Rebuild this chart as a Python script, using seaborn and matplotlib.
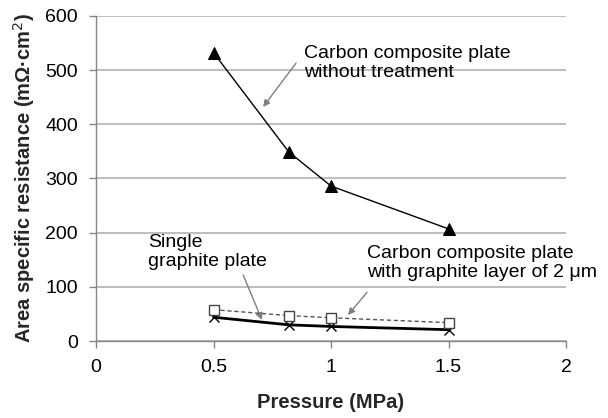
import matplotlib
matplotlib.use('Agg')
import matplotlib.pyplot as plt
import seaborn as sns

# Дані з графіка
pressure = [0.5, 0.82, 1.0, 1.5]
untreated = [532, 349, 286, 207]        # Carbon composite plate without treatment
graphite_layer = [58, 47, 43, 34]       # Carbon composite plate with graphite layer of 2 um
single_graphite = [44, 30, 27, 21]      # Single graphite plate

x_ticks = [0, 0.5, 1, 1.5, 2]
y_ticks = [0, 100, 200, 300, 400, 500, 600]

sns.set_theme(style='white')
plt.rcParams['font.family'] = ['Liberation Sans', 'DejaVu Sans']

fig = plt.figure(figsize=(6.08, 4.18), dpi=100)
ax = fig.add_axes([0.158, 0.184, 0.773, 0.778])

grid_col = '#bfbfbf'
axis_col = '#868686'

# Лінії серій
sns.lineplot(x=pressure, y=untreated, ax=ax, color='black', linewidth=1,
             marker='^', markersize=8, markeredgecolor='black',
             markerfacecolor='black', zorder=3)
sns.lineplot(x=pressure, y=graphite_layer, ax=ax, color='#555555',
             linewidth=1, linestyle=(0, (3, 2)), marker='s', markersize=7,
             markerfacecolor='white', markeredgecolor='#444444',
             markeredgewidth=1, zorder=4)
sns.lineplot(x=pressure, y=single_graphite, ax=ax, color='black',
             linewidth=2, marker='x', markersize=7, markeredgecolor='black',
             markeredgewidth=1, zorder=3)

ax.set_xlim(0, 2)
ax.set_ylim(0, 600)
ax.set_xticks(x_ticks)
ax.set_xticklabels(['0', '0.5', '1', '1.5', '2'])
ax.set_yticks(y_ticks)

ax.yaxis.grid(True, color=grid_col, linewidth=1.5)
ax.set_axisbelow(True)
for side in ['top', 'right']:
    ax.spines[side].set_visible(False)
for side in ['left', 'bottom']:
    ax.spines[side].set_color(axis_col)
    ax.spines[side].set_linewidth(1)
ax.tick_params(axis='both', which='major', direction='out', length=5,
               width=1, color=axis_col, labelsize=14, labelcolor='black',
               left=True, bottom=True, pad=8)

ax.set_xlabel('Pressure (MPa)', fontsize=14.5, fontweight='bold', labelpad=12)
ax.set_ylabel('Area specific resistance (m\u03a9\u00b7cm$^2$)', fontsize=14.5,
              fontweight='bold', labelpad=6)

# Підписи та стрілки
arrow = dict(arrowstyle='-|>', color='#808080', lw=1, mutation_scale=10,
             shrinkA=0, shrinkB=0)
txt = dict(fontsize=14, ha='left', va='top', linespacing=1.15, color='black')

ax.text(0.885, 547, 'Carbon composite plate\nwithout treatment', **txt)
ax.annotate('', xy=(0.711, 432), xytext=(0.851, 513), arrowprops=arrow)

ax.text(0.221, 198, 'Single\ngraphite plate', **txt)
ax.annotate('', xy=(0.706, 39), xytext=(0.626, 122), arrowprops=arrow)

ax.text(1.153, 178, 'Carbon composite plate\nwith graphite layer of 2 \u03bcm', **txt)
ax.annotate('', xy=(1.072, 48), xytext=(1.153, 90), arrowprops=arrow)

fig.savefig('out.png', dpi=100)
